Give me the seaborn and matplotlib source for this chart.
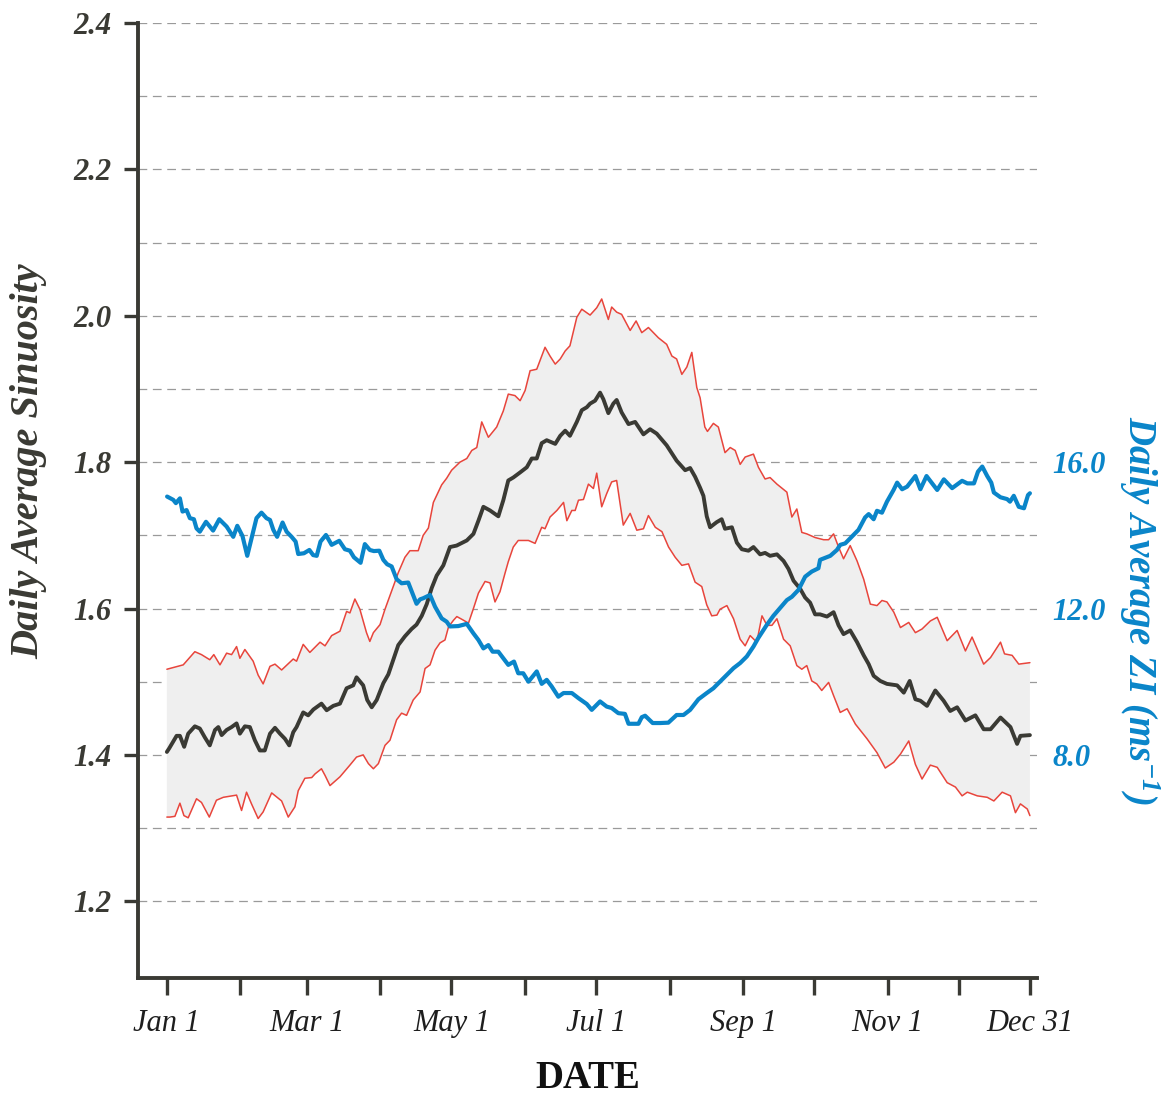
import numpy as np
import seaborn as sns
import matplotlib.pyplot as plt

# day of year (0 = Jan 1) -> daily average sinuosity, mean line
MEAN_DAY = [0, 1, 4.1, 5.5, 7.3, 9.0, 11.8, 13.9, 16.0, 18.1, 20.3, 21.7, 23.1, 25.2, 27.3, 29.4,
            30.8, 32.9, 35.0, 37.1, 39.2, 41.3, 43.5, 45.6, 47.7, 49.8, 51.6, 53.3, 54.7, 57.5,
            59.6, 61.8, 65.2, 67.4, 70.2, 73.0, 75.8, 78.6, 80.0, 82.8, 84.5, 86.4, 88.5, 91.3,
            93.4, 95.5, 97.6, 100.4, 103.2, 105.3, 107.5, 109.6, 111.7, 113.8, 116.6, 119.4,
            122.2, 126.5, 129.3, 131.4, 133.5, 136.3, 139.8, 141.9, 144.0, 146.1, 149.0, 151.8,
            153.9, 156.0, 158.1, 160.2, 163.8, 165.9, 168.0, 170.0, 172.9, 175.0, 177.1, 178.5,
            180.6, 182.7, 184.1, 186.2, 188.3, 189.7, 191.8, 194.7, 197.5, 201.0, 203.8, 206.6,
            210.8, 215.0, 218.6, 220.7, 222.8, 224.9, 226.3, 227.7, 229.1, 231.9, 234.0, 235.4,
            238.3, 240.4, 242.5, 245.3, 247.4, 250.2, 252.3, 254.4, 257.3, 260.1, 262.2, 264.3,
            267.1, 269.2, 271.3, 273.4, 275.5, 278.4, 281.2, 283.3, 285.4, 288.2, 291.1, 293.9,
            296.0, 298.1, 300.9, 303.7, 308.0, 310.8, 313.3, 315.7, 317.8, 320.6, 324.1, 327.6,
            330.4, 333.3, 336.8, 341.0, 344.5, 347.4, 351.6, 355.8, 358.6, 360.0, 364.0]
MEAN_SIN = [1.404, 1.409, 1.426, 1.426, 1.411, 1.429, 1.439, 1.436, 1.424, 1.413, 1.434, 1.438,
            1.427, 1.434, 1.438, 1.443, 1.429, 1.439, 1.438, 1.420, 1.406, 1.406, 1.429, 1.437,
            1.429, 1.422, 1.413, 1.431, 1.438, 1.458, 1.454, 1.462, 1.470, 1.461, 1.467, 1.470,
            1.491, 1.495, 1.506, 1.495, 1.475, 1.465, 1.475, 1.498, 1.510, 1.530, 1.550, 1.562,
            1.572, 1.578, 1.590, 1.606, 1.628, 1.645, 1.659, 1.684, 1.686, 1.693, 1.702, 1.720,
            1.739, 1.734, 1.726, 1.748, 1.775, 1.779, 1.786, 1.793, 1.805, 1.805, 1.826, 1.830,
            1.825, 1.836, 1.843, 1.836, 1.855, 1.871, 1.875, 1.880, 1.884, 1.895, 1.886, 1.867,
            1.880, 1.885, 1.868, 1.852, 1.855, 1.838, 1.845, 1.839, 1.823, 1.802, 1.789, 1.792,
            1.780, 1.765, 1.754, 1.726, 1.711, 1.718, 1.722, 1.709, 1.711, 1.690, 1.681, 1.679,
            1.684, 1.674, 1.676, 1.672, 1.674, 1.665, 1.654, 1.638, 1.627, 1.615, 1.608, 1.592,
            1.592, 1.589, 1.595, 1.577, 1.565, 1.570, 1.554, 1.536, 1.524, 1.508, 1.501, 1.497,
            1.495, 1.485, 1.501, 1.476, 1.474, 1.467, 1.488, 1.474, 1.460, 1.465, 1.447, 1.454,
            1.435, 1.435, 1.451, 1.438, 1.415, 1.426, 1.427]

# upper envelope
UPPER_DAY = [0, 6.9, 11.8, 14.6, 18.1, 19.8, 22.4, 25.2, 27.3, 29.4, 30.8, 32.9, 36.4, 38.5, 40.6,
             43.5, 45.6, 48.4, 53.3, 54.7, 57.5, 60.3, 64.6, 66.7, 69.5, 73.0, 75.8, 77.2, 79.3,
             81.4, 84.2, 85.6, 87.1, 89.9, 92.0, 94.8, 97.6, 100.4, 102.5, 106.0, 108.1, 110.3,
             112.4, 115.9, 118.0, 120.1, 123.6, 126.5, 128.6, 130.7, 132.8, 135.6, 139.1, 141.9,
             144.0, 146.8, 149.0, 151.1, 153.2, 156.0, 159.5, 161.6, 163.8, 165.9, 168.0, 170.0,
             172.9, 175.0, 178.5, 181.3, 183.4, 186.2, 187.6, 189.7, 191.8, 195.4, 197.9, 200.3,
             203.1, 207.3, 210.8, 213.0, 215.0, 217.2, 219.3, 221.4, 223.5, 224.9, 226.9, 228.0,
             230.5, 232.6, 235.4, 237.6, 239.7, 241.8, 243.9, 247.4, 249.5, 252.3, 254.4, 257.3,
             261.5, 263.6, 265.7, 267.8, 269.9, 273.4, 277.0, 279.1, 281.2, 283.3, 285.4, 288.2,
             291.1, 293.9, 296.7, 299.5, 301.6, 303.7, 306.6, 309.4, 312.9, 315.7, 318.5, 322.0,
             324.9, 329.1, 333.3, 336.8, 339.6, 344.5, 347.4, 351.6, 353.3, 356.5, 359.3, 364.0]
UPPER_SIN = [1.517, 1.523, 1.541, 1.537, 1.530, 1.537, 1.523, 1.539, 1.537, 1.548, 1.532, 1.544,
             1.528, 1.509, 1.497, 1.521, 1.524, 1.516, 1.531, 1.528, 1.551, 1.540, 1.554, 1.549,
             1.563, 1.569, 1.596, 1.594, 1.613, 1.599, 1.567, 1.555, 1.567, 1.578, 1.599, 1.624,
             1.649, 1.670, 1.679, 1.679, 1.700, 1.710, 1.745, 1.769, 1.778, 1.789, 1.800, 1.805,
             1.816, 1.820, 1.855, 1.834, 1.848, 1.870, 1.893, 1.891, 1.884, 1.898, 1.925, 1.927,
             1.957, 1.945, 1.934, 1.941, 1.952, 1.959, 1.998, 2.009, 2.001, 2.011, 2.023, 1.995,
             2.012, 2.005, 2.002, 1.980, 1.993, 1.977, 1.984, 1.970, 1.961, 1.945, 1.941, 1.920,
             1.930, 1.950, 1.902, 1.888, 1.848, 1.842, 1.853, 1.848, 1.813, 1.820, 1.816, 1.797,
             1.807, 1.811, 1.793, 1.777, 1.779, 1.770, 1.759, 1.725, 1.736, 1.704, 1.702, 1.697,
             1.694, 1.694, 1.702, 1.684, 1.668, 1.686, 1.665, 1.640, 1.606, 1.604, 1.611, 1.609,
             1.595, 1.574, 1.581, 1.567, 1.572, 1.583, 1.588, 1.556, 1.570, 1.542, 1.561, 1.524,
             1.533, 1.554, 1.538, 1.536, 1.524, 1.526]

# lower envelope
LOWER_DAY = [0, 1.3, 3.4, 5.5, 7.2, 9.0, 12.5, 14.6, 17.9, 20.9, 23.8, 29.4, 31.5, 33.6, 35.7,
             38.5, 40.6, 44.2, 48.4, 51.2, 54.0, 55.4, 58.2, 61.1, 62.5, 65.2, 66.7, 68.8, 73.0,
             77.2, 80.0, 82.8, 85.0, 87.1, 89.2, 92.0, 94.1, 96.9, 99.0, 101.1, 103.9, 106.8,
             108.9, 111.0, 113.1, 115.2, 117.3, 118.8, 120.9, 122.3, 125.1, 127.2, 129.3, 131.4,
             134.2, 136.3, 138.4, 140.5, 142.6, 144.0, 146.1, 148.2, 152.5, 155.3, 158.1, 159.5,
             161.6, 164.5, 167.3, 168.7, 170.8, 172.2, 173.6, 175.7, 177.8, 179.9, 181.3, 183.4,
             185.5, 187.6, 189.7, 192.5, 195.4, 198.2, 201.0, 203.1, 206.0, 208.8, 211.6, 214.4,
             217.2, 220.0, 222.8, 225.6, 227.7, 229.8, 232.0, 233.3, 236.2, 239.0, 241.8, 243.9,
             246.0, 248.8, 251.0, 253.1, 255.2, 257.3, 260.1, 262.9, 265.7, 267.8, 269.9, 272.0,
             274.1, 276.2, 279.1, 281.2, 284.0, 286.9, 290.4, 295.3, 299.5, 303.0, 306.6, 309.4,
             312.9, 315.7, 318.5, 322.0, 324.9, 329.1, 332.6, 335.4, 337.6, 341.8, 346.0, 348.8,
             352.3, 355.8, 357.9, 360.0, 362.9, 364.0]
LOWER_SIN = [1.315, 1.315, 1.316, 1.334, 1.317, 1.314, 1.340, 1.335, 1.315, 1.338, 1.342, 1.345,
             1.324, 1.349, 1.333, 1.313, 1.322, 1.348, 1.337, 1.315, 1.329, 1.351, 1.368, 1.369,
             1.374, 1.381, 1.372, 1.358, 1.370, 1.386, 1.397, 1.400, 1.388, 1.381, 1.388, 1.413,
             1.420, 1.448, 1.457, 1.454, 1.475, 1.486, 1.518, 1.523, 1.543, 1.553, 1.557, 1.575,
             1.584, 1.589, 1.584, 1.580, 1.600, 1.621, 1.637, 1.635, 1.609, 1.623, 1.648, 1.664,
             1.684, 1.693, 1.693, 1.689, 1.711, 1.709, 1.725, 1.734, 1.745, 1.720, 1.734, 1.734,
             1.748, 1.749, 1.770, 1.764, 1.785, 1.739, 1.757, 1.773, 1.775, 1.714, 1.730, 1.707,
             1.709, 1.727, 1.711, 1.705, 1.684, 1.670, 1.659, 1.661, 1.636, 1.630, 1.605, 1.590,
             1.591, 1.599, 1.604, 1.586, 1.558, 1.549, 1.563, 1.554, 1.590, 1.577, 1.577, 1.586,
             1.558, 1.549, 1.522, 1.517, 1.522, 1.501, 1.497, 1.488, 1.499, 1.481, 1.458, 1.463,
             1.442, 1.422, 1.403, 1.382, 1.390, 1.401, 1.419, 1.387, 1.367, 1.386, 1.383, 1.362,
             1.356, 1.344, 1.349, 1.344, 1.342, 1.337, 1.349, 1.344, 1.321, 1.333, 1.326, 1.317]

# daily average ZI (m/s)
ZI_DAY = [0.1, 2.7, 3.8, 5.5, 6.6, 8.3, 9.7, 11.4, 12.5, 13.9, 16.5, 19.5, 22.1, 25.2, 28.0, 29.7,
          31.9, 33.9, 35.7, 37.8, 39.9, 42.0, 43.5, 44.9, 46.5, 48.8, 50.5, 52.6, 54.3, 55.4,
          57.8, 60.1, 61.7, 63.2, 64.8, 67.1, 69.5, 72.7, 75.1, 77.2, 78.9, 81.7, 83.5, 85.6,
          87.3, 89.6, 91.3, 92.9, 94.8, 96.9, 99.0, 101.8, 105.3, 106.8, 108.1, 111.0, 113.1,
          115.9, 118.0, 119.4, 122.9, 126.5, 129.3, 131.4, 133.5, 135.6, 137.4, 139.8, 141.9,
          144.0, 146.4, 148.2, 150.3, 152.5, 156.0, 158.1, 160.2, 162.3, 165.1, 167.3, 170.8,
          173.6, 177.1, 179.2, 182.7, 185.5, 187.6, 190.4, 193.2, 194.7, 198.9, 200.3, 201.7,
          204.9, 208.0, 211.5, 215.0, 217.9, 220.7, 224.2, 227.7, 230.5, 234.8, 239.0, 241.8,
          244.6, 247.4, 249.5, 251.5, 253.0, 255.8, 258.6, 261.5, 263.6, 266.4, 269.2, 272.0,
          274.8, 275.5, 279.8, 282.6, 284.0, 286.1, 289.6, 291.7, 294.5, 296.0, 298.1, 299.5,
          301.6, 303.7, 306.5, 308.0, 310.1, 312.2, 315.7, 317.8, 320.4, 324.9, 327.7, 331.2,
          335.4, 337.6, 340.4, 342.1, 343.9, 346.0, 347.7, 348.8, 351.6, 354.4, 355.6, 357.2,
          359.3, 361.5, 363.2, 364.0]
ZI_VAL = [15.06, 14.97, 14.88, 15.01, 14.65, 14.69, 14.47, 14.44, 14.19, 14.10, 14.37, 14.13,
          14.44, 14.24, 13.96, 14.26, 13.98, 13.44, 13.92, 14.47, 14.62, 14.47, 14.42, 14.15,
          13.96, 14.35, 14.10, 13.96, 13.83, 13.49, 13.51, 13.60, 13.46, 13.44, 13.83, 14.01,
          13.74, 13.85, 13.62, 13.58, 13.40, 13.25, 13.76, 13.60, 13.57, 13.58, 13.33, 13.21,
          13.15, 12.80, 12.69, 12.71, 12.13, 12.25, 12.28, 12.37, 12.05, 11.73, 11.64, 11.51,
          11.52, 11.58, 11.32, 11.14, 10.91, 11.00, 10.82, 10.82, 10.64, 10.46, 10.55, 10.23,
          10.23, 10.00, 10.28, 9.94, 10.05, 9.87, 9.59, 9.69, 9.69, 9.55, 9.39, 9.23, 9.46,
          9.32, 9.28, 9.14, 9.12, 8.85, 8.85, 9.03, 9.07, 8.87, 8.87, 8.88, 9.09, 9.09, 9.23,
          9.52, 9.69, 9.82, 10.10, 10.37, 10.51, 10.69, 10.96, 11.20, 11.40, 11.55, 11.80,
          12.01, 12.23, 12.32, 12.51, 12.87, 13.01, 13.10, 13.33, 13.44, 13.60, 13.74, 13.78,
          14.01, 14.15, 14.49, 14.58, 14.44, 14.67, 14.62, 14.92, 15.24, 15.44, 15.26, 15.33,
          15.62, 15.26, 15.62, 15.24, 15.53, 15.29, 15.49, 15.42, 15.42, 15.74, 15.88, 15.62,
          15.44, 15.17, 15.04, 14.99, 14.92, 15.08, 14.78, 14.74, 15.10, 15.15]

TICK_DAYS = [0, 31, 59, 90, 120, 151, 181, 212, 243, 273, 304, 334, 364]
TICK_LABELS = ["Jan 1", "", "Mar 1", "", "May 1", "", "Jul 1", "", "Sep 1", "", "Nov 1", "", "Dec 31"]
SIN_TICKS = [1.2, 1.4, 1.6, 1.8, 2.0, 2.2, 2.4]
SIN_GRID = [1.3, 1.5, 1.7, 1.9, 2.1, 2.3]
ZI_TICKS = [8.0, 12.0, 16.0]

DARK = "#3a3a34"
RED = "#e8453c"
BLUE = "#0a85c9"

sns.set_style("white")
plt.rcParams["font.family"] = ["Liberation Serif", "DejaVu Serif"]
plt.rcParams["mathtext.default"] = "regular"

fig = plt.figure(figsize=(11.69, 10.95), dpi=100)
ax = fig.add_axes([0.118, 0.1068, 0.7691, 0.8721])

# shaded band between the envelopes
band_x = np.concatenate([UPPER_DAY, LOWER_DAY[::-1]])
band_y = np.concatenate([UPPER_SIN, LOWER_SIN[::-1]])
ax.fill(band_x, band_y, color="#efefef", lw=0, zorder=1)

sns.lineplot(x=UPPER_DAY, y=UPPER_SIN, ax=ax, color=RED, linewidth=1.1, errorbar=None, zorder=3)
sns.lineplot(x=LOWER_DAY, y=LOWER_SIN, ax=ax, color=RED, linewidth=1.1, errorbar=None, zorder=3)
sns.lineplot(x=MEAN_DAY, y=MEAN_SIN, ax=ax, color=DARK, linewidth=2.8, errorbar=None, zorder=4)

ax.set_xlim(-12.2, 367)
ax.set_ylim(1.095, 2.4)
ax.set_yticks(SIN_TICKS)
ax.set_yticks(SIN_GRID, minor=True)
ax.yaxis.grid(True, which="both", color="#9a9a9a", linestyle=(0, (7, 4.5)), linewidth=0.9)
ax.xaxis.grid(False)
ax.set_axisbelow(True)

ax.set_xticks(TICK_DAYS)
ax.set_xticklabels(TICK_LABELS, fontstyle="italic", fontsize=22, color="#1e1e1e")
ax.set_yticklabels([f"{v:.1f}" for v in SIN_TICKS],
                   fontstyle="italic", fontweight="bold", fontsize=22, color=DARK)
ax.tick_params(axis="x", direction="out", length=12, width=2.4, pad=10, color=DARK, bottom=True)
ax.tick_params(axis="y", which="major", direction="out", length=10, width=2.4, pad=9, color=DARK, left=True)
ax.tick_params(axis="y", which="minor", length=0)

for side in ["top", "right"]:
    ax.spines[side].set_visible(False)
for side in ["left", "bottom"]:
    ax.spines[side].set_color(DARK)
    ax.spines[side].set_linewidth(2.8)

ax.set_xlabel("DATE", fontsize=28, fontweight="bold", color="#111111", labelpad=16)
ax.set_ylabel("Daily Average Sinuosity", fontsize=29, fontweight="bold", fontstyle="italic", color=DARK)
ax.yaxis.set_label_coords(-0.101, 0.541)

# second axis for ZI
ax2 = ax.twinx()
sns.lineplot(x=ZI_DAY, y=ZI_VAL, ax=ax2, color=BLUE, linewidth=3.0, errorbar=None, zorder=5)
ax2.set_ylim(1.9, 28.0)
ax2.set_yticks(ZI_TICKS)
ax2.set_yticklabels([f"{v:.1f}" for v in ZI_TICKS], fontstyle="italic", fontweight="bold",
                    fontsize=22, color=BLUE)
ax2.tick_params(axis="y", length=0, pad=11)
ax2.grid(False)
for side in ax2.spines:
    ax2.spines[side].set_visible(False)
ax2.set_ylabel("Daily Average ZI (ms$^{-1}$)", fontsize=28, fontweight="bold", fontstyle="italic",
               color=BLUE, rotation=270, va="bottom", ha="center", rotation_mode="anchor")
ax2.yaxis.set_label_coords(1.089, 0.385)

fig.savefig("out.png", dpi=100)
